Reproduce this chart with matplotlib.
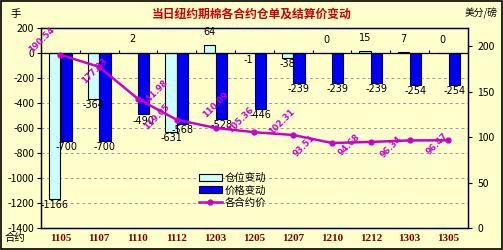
import matplotlib.pyplot as plt
import numpy as np

plt.rcParams['font.family'] = ['Noto Sans CJK SC', 'DejaVu Sans']
plt.rcParams['axes.unicode_minus'] = False

# --- data ---
contracts = ['1105', '1107', '1110', '1112', '1203', '1205',
             '1207', '1210', '1212', '1303', '1305']
stock_change = [-1166, -364, 2, -631, 64, -1, -38, 0, 15, 7, 0]
price_change = [-700, -700, -490, -568, -528, -446, -239, -239, -239, -254, -254]
settle_price = [190.54, 177.23, 141.98, 119.05, 110.09, 105.36,
                102.31, 93.51, 94.68, 96.34, 96.47]

# label offsets for the price line (pixels, like the Excel placement)
price_lbl_off = [(-19, 15), (-5, -4), (17, 6), (-20, 3), (0, 23), (-14, 12),
                 (-11, 13), (-28, -3), (-22, -3), (-18, -6), (-11, -4)]

BG = '#FFFFCC'
CYAN = '#CCFFFF'
BLUE = '#0000EE'
MAG = '#CC00CC'

fig = plt.figure(figsize=(5.03, 2.5), dpi=100, facecolor=BG)
ax = fig.add_axes([0.0815, 0.088, 0.8485, 0.80])
ax.set_facecolor(BG)
ax2 = ax.twinx()

x = np.arange(len(contracts))
w = 0.29

bars_s = ax.bar(x - 0.15, stock_change, w, color=CYAN, edgecolor='black',
                linewidth=0.8, label='仓位变动', zorder=3)
bars_p = ax.bar(x + 0.15, price_change, w, color=BLUE, edgecolor='#000060',
                linewidth=0.8, label='价格变动', zorder=3)

ax.set_xlim(-0.5, len(contracts) - 0.5)
ax.set_ylim(-1400, 200)
ax.set_yticks(np.arange(-1400, 201, 200))
ax.grid(axis='y', linestyle=(0, (3, 3)), color='#999999', linewidth=0.7, zorder=0)
ax.axhline(0, color='black', linewidth=0.9, zorder=4)
ax.vlines(np.arange(len(contracts) + 1) - 0.5, 0, 25, color='black',
          linewidth=0.8, zorder=4)

ax.set_xticks(x)
ax.set_xticklabels(contracts, family='Liberation Serif', fontweight='bold',
                   color='#800000', fontsize=8)
ax.tick_params(axis='x', length=0, pad=4)
ax.tick_params(axis='y', labelsize=7.5, length=3, pad=2)

for sp in ax.spines.values():
    sp.set_linewidth(1.0)

# bar labels
for xi, v in zip(x, stock_change):
    if v < 0:
        ax.annotate(str(v), (xi - 0.15, v), xytext=(0, -1), textcoords='offset points',
                    ha='center', va='top', fontsize=7, family='DejaVu Sans')
    else:
        ax.annotate(str(v), (xi - 0.15, max(v, 0)), xytext=(0, 6), textcoords='offset points',
                    ha='center', va='bottom', fontsize=7, family='DejaVu Sans')
for xi, v in zip(x, price_change):
    ax.annotate(str(v), (xi + 0.15, v), xytext=(0, -1), textcoords='offset points',
                ha='center', va='top', fontsize=7, family='DejaVu Sans')

# price line
line, = ax2.plot(x, settle_price, color=MAG, linewidth=1.8, marker='o',
                 markersize=3.5, label='各合约价', zorder=5)
ax2.set_ylim(0, 220)
ax2.set_yticks([0, 50, 100, 150, 200])
ax2.tick_params(axis='y', labelsize=7.5, length=3, pad=4)
for xi, v, (dx, dy) in zip(x, settle_price, price_lbl_off):
    ax2.annotate(f'{v:.2f}', (xi, v), xytext=(dx * 0.72, dy * 0.72),
                 textcoords='offset points', ha='center', va='center',
                 rotation=45, fontsize=6, color=MAG, fontweight='bold',
                 family='DejaVu Sans')

ax.legend([bars_s, bars_p, line], ['仓位变动', '价格变动', '各合约价'],
          loc='lower left', bbox_to_anchor=(0.36, 0.08), frameon=False,
          fontsize=7.5, handlelength=2.2, handletextpad=0.3, labelspacing=0.2,
          borderaxespad=0)

# headings
fig.text(0.50, 0.945, '当日纽约期棉各合约仓单及结算价变动', ha='center', va='center',
         color='#CC0000', fontsize=8.5, fontweight='bold')
fig.text(0.02, 0.945, '手', ha='left', va='center', fontsize=7.5)
fig.text(0.99, 0.945, '美分/磅', ha='right', va='center', fontsize=7)
fig.text(0.01, 0.048, '合约', ha='left', va='center', fontsize=7.5)

# outer frame
fig.patches.append(plt.Rectangle((0.002, 0.004), 0.996, 0.992, transform=fig.transFigure,
                                 fill=False, edgecolor='black', linewidth=1.2))

fig.savefig('out.png', dpi=100, facecolor=BG)
